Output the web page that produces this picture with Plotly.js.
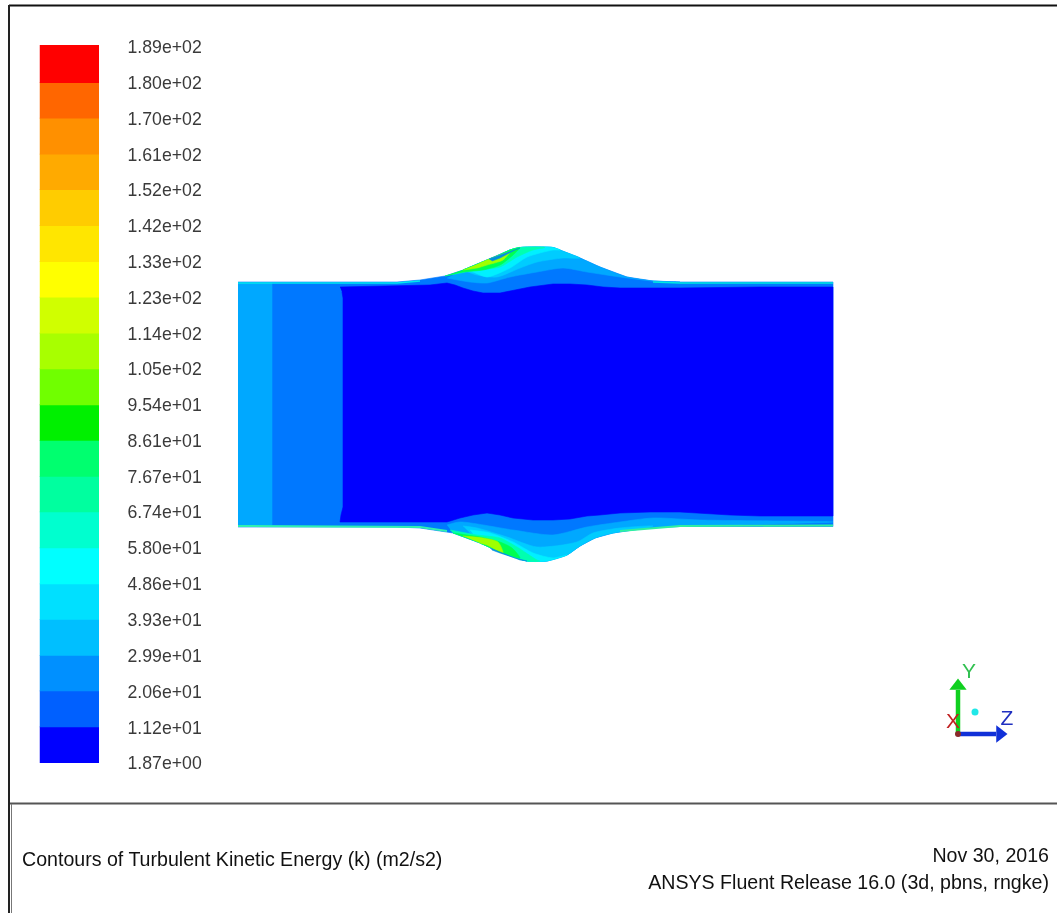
<!DOCTYPE html>
<html>
<head>
<meta charset="utf-8">
<script src="https://cdn.plot.ly/plotly-3.0.1.min.js"></script>
<style>html,body{margin:0;padding:0;background:#fff}#chart{width:1057px;height:913px;filter:blur(0.4px)}</style>
</head>
<body>
<div id="chart"></div>
<script>
// Colour scale
const levelLabels = ['1.87e+00','1.12e+01','2.06e+01','2.99e+01','3.93e+01','4.86e+01','5.80e+01','6.74e+01','7.67e+01','8.61e+01','9.54e+01','1.05e+02','1.14e+02','1.23e+02','1.33e+02','1.42e+02','1.52e+02','1.61e+02','1.70e+02','1.80e+02','1.89e+02'];
const levels = [1.87,11.2,20.6,29.9,39.3,48.6,58.0,67.4,76.7,86.1,95.4,104.8,114.1,123.5,132.8,142.2,151.6,160.9,170.3,179.6,189];
const bandColors = ['#0000ff','#0060ff','#0090ff','#00bfff','#00e0ff','#00ffff','#00ffcf','#00ff9f','#00ff6f','#00f000','#70ff00','#a8ff00','#d0ff00','#ffff00','#ffe600','#ffcc00','#ffaa00','#ff9000','#ff6600','#ff0000'];
const barEnds = [11.2,20.6,29.9,39.3,48.6,58.0,67.4,76.7,86.1,95.4,104.8,114.1,123.5,132.8,142.2,151.6,160.9,170.3,179.6,189.52];

// Contour outlines
const outerTop = [[238,282],[397,282],[420,280],[445,276],[463,270],[480,263],[497,256],[510,250],[520,247.5],[535,247],[553,247.5],[565,252],[580,258],[600,267],[627,277],[653,281],[680,282],[833,282]];
const outerBottom = [[238,527],[397,527],[420,528],[453,533],[480,543],[503,553],[527,561],[537,561.5],[547,561],[567,555],[580,546],[595,538],[613,533],[647,528],[680,526.5],[833,526.5]];
const inletStrip = [[238,283],[272,283],[272,525],[238,525]];
const coreOutline = [[340,287],[430,285],[447,283],[455,285],[463,288],[473,291],[483,293],[500,293],[515,290],[530,287],[553,284],[570,284],[587,285],[603,287],[620,288],[680,288],[760,287],[833,287],[833,516],[760,516],[730,515],[700,513],[680,512],[650,512],[620,513],[600,515],[587,516],[570,519],[553,520],[533,520],[513,518],[500,515],[487,513],[473,515],[460,518],[447,522],[420,522],[340,522],[341,515],[343,507],[343,298],[342,292]];

const topBandA = [[447,278],[470,282],[487,283],[510,277],[537,272],[563,268],[587,272],[620,277],[653,281],[680,282]];
const topBandB = [[463,270],[477,275],[497,277],[520,268],[537,262],[563,258],[580,258]];
const topBandC = [[463,270],[473,272],[487,277],[510,268],[527,257],[553,250],[560,250]];
const topBandD = [[445,276],[477,270],[500,267],[517,257],[533,250],[545,247.5]];
const topBandE = [[445,276],[463,272],[483,270],[500,265],[513,255],[520,247.5]];
const topBandF = [[463,270],[477,268],[487,265],[503,260],[510,252]];
const topEdgeSliver = [[489,259],[500,255],[513,250],[520,248],[515,250],[500,258],[492,261]];

const botBandA = [[447,525],[460,522],[513,530],[553,535],[587,527],[620,522],[653,518],[700,520],[833,522]];
const botBandB = [[463,526],[477,528],[507,537],[537,547],[577,542],[593,533],[620,528],[653,526]];
const botBandC = [[470,530],[490,533],[513,542],[533,553],[553,558],[567,555]];
const botBandD = [[450,530],[477,535],[500,538],[517,547],[537,560],[540,561]];
const botBandE = [[453,533],[480,537],[500,542],[512,548],[520,558]];
const botBandF = [[463,536],[483,538],[498,542],[503,553],[487,545]];
const botEdgeSliver = [[490,548],[505,554],[520,560],[527,561],[515,558],[500,553],[492,550]];

const wallTop = [[238,283],[397,283],[420,281]];
const wallTopRight = [[653,282],[680,283],[833,283]];
const wallBottom = [[238,526],[420,527],[447,531]];
const wallBottomRight = [[620,531],[653,528],[680,526],[833,525.5]];

// Orientation triad
const triadY = [[958,734],[958,690]];
const triadZ = [[958,734],[996,734]];
const triadDot = [[975,712]];

// Text
const footerLeft = 'Contours of Turbulent Kinetic Energy (k) (m2/s2)';
const footerDate = 'Nov 30, 2016';
const footerRelease = 'ANSYS Fluent Release 16.0 (3d, pbns, rngke)';

const xs = p => p.map(q => q[0]);
const ys = p => p.map(q => q[1]);
const sealTop = low => low.concat(outerTop.filter(q => q[0] > low[0][0] && q[0] < low[low.length-1][0]).reverse());
const sealBot = low => low.concat(outerBottom.filter(q => q[0] > low[0][0] && q[0] < low[low.length-1][0]).reverse());
const poly = (p, color, smooth) => ({type:'scatter',mode:'lines',x:xs(p),y:ys(p),fill:'toself',fillcolor:color,
  line:smooth ? {width:0.6,color:color,shape:'spline',smoothing:0.7} : {width:0.6,color:color},hoverinfo:'skip'});
const wall = (p, color, w) => ({type:'scatter',mode:'lines',x:xs(p),y:ys(p),line:{width:w,color:color},hoverinfo:'skip'});

const traces = [
  poly(outerTop.concat(outerBottom.slice().reverse()), '#0078ff'),
  poly(inletStrip, '#00a8ff'),
  poly(coreOutline, '#0000ff'),
  poly(sealTop(topBandA), '#00a8ff', true),
  poly(sealTop(topBandB), '#00ccff', true),
  poly(sealTop(topBandC), '#00f0ff', true),
  poly(sealTop(topBandD), '#00ffb0', true),
  poly(sealTop(topBandE), '#00ff50', true),
  poly(sealTop(topBandF), '#a0ff00', true),
  poly(topEdgeSliver, '#0090e0'),
  poly(sealBot(botBandA), '#00a8ff', true),
  poly(sealBot(botBandB), '#00ccff', true),
  poly(sealBot(botBandC), '#00f0ff', true),
  poly(sealBot(botBandD), '#00ffb0', true),
  poly(sealBot(botBandE), '#00ff50', true),
  poly(sealBot(botBandF), '#a0ff00', true),
  poly(botEdgeSliver, '#0090e0'),
  wall(wallTop, '#00e8f0', 1.6),
  wall(wallTopRight, '#00e8e0', 1.6),
  wall(wallBottom, '#30f0b0', 2),
  wall(wallBottomRight, '#30f0a0', 1.8),
  // colour bar
  {type:'bar',xaxis:'x2',yaxis:'y2',x:bandColors.map(()=> 'k'),base:levels.slice(0,-1),
   y:barEnds.map((v,i)=>v-levels[i]+0.2),marker:{color:bandColors,line:{width:0}},width:1,hoverinfo:'skip'},
  // triad
  wall(triadY,'#10d020',4.5),
  wall(triadZ,'#1030d8',4.5),
  {type:'scatter',mode:'markers',x:[958],y:[686],marker:{symbol:'triangle-up',size:15,color:'#10d020'},hoverinfo:'skip'},
  {type:'scatter',mode:'markers',x:[1000],y:[734],marker:{symbol:'triangle-right',size:15,color:'#1030d8'},hoverinfo:'skip'},
  {type:'scatter',mode:'markers',x:xs(triadDot),y:ys(triadDot),marker:{size:7,color:'#20e8e8'},hoverinfo:'skip'},
  {type:'scatter',mode:'markers',x:[958],y:[734],marker:{size:6,color:'#8a2a2a'},hoverinfo:'skip'},
  {type:'scatter',mode:'text',x:[953,969,1007],y:[723,673,720],text:['X','Y','Z'],
   textposition:'middle center',textfont:{family:'Liberation Sans',size:21,color:['#c02020','#30c050','#2030c0']},hoverinfo:'skip'},
  // footer
  {type:'scatter',mode:'text',x:[22],y:[861],text:[footerLeft],textposition:'middle right',
   textfont:{family:'Liberation Sans',size:19.6,color:'#111'},hoverinfo:'skip'},
  {type:'scatter',mode:'text',x:[1049,1049],y:[857,884],text:[footerDate,footerRelease],textposition:'middle left',
   textfont:{family:'Liberation Sans',size:19.6,color:'#111'},hoverinfo:'skip'}
];

const layout = {
  width:1057,height:913,margin:{l:0,r:0,t:0,b:0},showlegend:false,
  paper_bgcolor:'#fff',plot_bgcolor:'#fff',barmode:'overlay',
  xaxis:{range:[0,1057],visible:false,fixedrange:true,domain:[0,1]},
  yaxis:{range:[913,0],visible:false,fixedrange:true,domain:[0,1]},
  xaxis2:{domain:[39.5/1057,99/1057],anchor:'y2',range:[-0.5,0.5],type:'category',visible:false,fixedrange:true},
  yaxis2:{domain:[1-763/913,1-45/913],anchor:'x2',side:'right',range:[levels[0],barEnds[barEnds.length-1]],
    tickmode:'array',tickvals:levels,ticktext:levelLabels,ticks:'outside',ticklen:24,tickcolor:'rgba(0,0,0,0)',
    showgrid:false,zeroline:false,showline:false,fixedrange:true,
    tickfont:{family:'Liberation Sans',size:17.7,color:'#3a3a3a'}},
  shapes:[
    {type:'line',xref:'x',yref:'y',x0:9,x1:1057,y0:5.5,y1:5.5,line:{color:'#111',width:2}},
    {type:'line',xref:'x',yref:'y',x0:9,x1:9,y0:5,y1:913,line:{color:'#222',width:2}},
    {type:'line',xref:'x',yref:'y',x0:10,x1:1057,y0:803.5,y1:803.5,line:{color:'#555',width:2}},
    {type:'line',xref:'x',yref:'y',x0:11.5,x1:11.5,y0:804,y1:913,line:{color:'#777',width:1}}
  ]
};
Plotly.newPlot('chart',traces,layout,{displayModeBar:false,staticPlot:true});
</script>
</body>
</html>
